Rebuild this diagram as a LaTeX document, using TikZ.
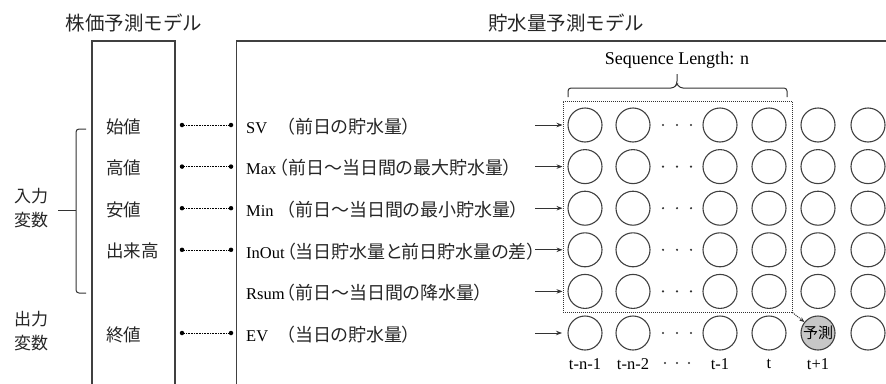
\documentclass[tikz,border=0pt]{standalone}
\usepackage{fontspec}
\setmainfont{Liberation Serif}
\newfontfamily\jp{Noto Sans CJK JP}
\newfontfamily\jpp[RawFeature={+palt}]{Noto Sans CJK JP}
\newcommand\jtxt[1]{{\jpp\fontsize{18}{19}\selectfont\color{black!85}#1}}
\newcommand\lbox[2]{\makebox[#1][l]{#2}}
\usetikzlibrary{arrows.meta,calc}
\begin{document}
\begin{tikzpicture}[x=1pt,y=-1pt,
  frame/.style={draw=black!75,line width=1.4pt},
  cir/.style={circle,draw=black!75,line width=1.1pt,minimum size=34pt,inner sep=0pt},
  rowtxt/.style={font=\fontsize{16.5}{18}\selectfont,inner sep=0pt,anchor=west},
  jleft/.style={font=\jp\fontsize{17.5}{19}\selectfont,inner sep=0pt,anchor=west,text=black!85},
  jtitle/.style={font=\jp\fontsize{19.5}{21}\selectfont,inner sep=0pt,text=black!85},
  jside/.style={font=\jp\fontsize{17}{24}\selectfont,inner sep=0pt,align=center,text=black!85},
  conn/.style={densely dotted,line width=0.6pt},
  dotend/.style={circle,fill=black,inner sep=0pt,minimum size=4.5pt},
  arr/.style={-{Stealth[length=6pt,width=4.5pt]},line width=0.8pt,draw=black!80},
  smalldot/.style={circle,fill=black!80,inner sep=0pt,minimum size=2.4pt},
  tlab/.style={font=\fontsize{16.5}{18}\selectfont,inner sep=0pt}
]
\useasboundingbox (0,0) rectangle (886,383);

% titles
\node[jtitle] (title1) at (134,23) {株価予測モデル};
\node[jtitle] (title2) at (566,23) {貯水量予測モデル};

% frames
\draw[frame] (92,390) -- (92,41) -- (175,41) -- (175,390);
\draw[frame] (236.5,390) -- (236.5,41) -- (890,41);

% side labels
\node[jside] (inlab) at (31,208) {入力\\変数};
\node[jside] (outlab) at (31,331) {出力\\変数};
\draw[line width=1pt,draw=black!80,rounded corners=3pt] (86,129) -- (76,129) -- (76,293) -- (86,293);
\draw[line width=1pt,draw=black!80] (58,210) -- (76,210);

% rows
\def\rA{125}\def\rB{166.6}\def\rC{208.2}\def\rD{249.8}\def\rE{291.4}\def\rF{333}

\node[jleft] (l1) at (106,\rA+1.5) {始値};
\node[jleft] (l2) at (106,\rB+1.5) {高値};
\node[jleft] (l3) at (106,\rC+1.5) {安値};
\node[jleft] (l4) at (106,\rD+1.5) {出来高};
\node[jleft] (l6) at (106,\rF+1.5) {終値};

\foreach \n/\r in {1/\rA,2/\rB,3/\rC,4/\rD,6/\rF}{
  \node[dotend] (da\n) at (182,\r) {};
  \node[dotend] (db\n) at (231,\r) {};
  \draw[conn] (da\n) -- (db\n);
}

\node[rowtxt] (s1) at (246,\rA+1.5) {\lbox{40pt}{SV}\jtxt{（前日の貯水量）}};
\node[rowtxt] (s2) at (246,\rB+1.5) {\lbox{33pt}{Max}\jtxt{（前日～当日間の最大貯水量）}};
\node[rowtxt] (s3) at (246,\rC+1.5) {\lbox{40pt}{Min}\jtxt{（前日～当日間の最小貯水量）}};
\node[rowtxt] (s4) at (246,\rD+1.5) {\lbox{40.5pt}{InOut}\jtxt{（当日貯水量と前日貯水量の差）}};
\node[rowtxt] (s5) at (246,\rE+1.5) {\lbox{40pt}{Rsum}\jtxt{（前日～当日間の降水量）}};
\node[rowtxt] (s6) at (246,\rF+1.5) {\lbox{40pt}{EV}\jtxt{（当日の貯水量）}};

% window
\node[draw=black!80,densely dotted,line width=1pt,minimum width=229pt,minimum height=211pt,inner sep=0pt] (win) at (677.5,206.5) {};

% arrows
\foreach \n/\r in {1/\rA,2/\rB,3/\rC,4/\rD,5/\rE,6/\rF}{
  \coordinate (as\n) at (535,\r);
}
\foreach \n/\r in {1/\rA,2/\rB,3/\rC,4/\rD,5/\rE}{
  \draw[arr] (as\n) -- (as\n -| win.west);
}
\coordinate (ae6) at (562,\rF);
\draw[arr] (as6) -- (ae6);

% circles
\foreach \n/\r in {1/\rA,2/\rB,3/\rC,4/\rD,5/\rE,6/\rF}{
  \foreach \c/\x in {1/585,2/633,3/720,4/769,6/868}{
    \node[cir] (c\n-\c) at (\x,\r) {};
  }
  \foreach \d/\x in {1/663,2/677,3/691}{
    \node[smalldot] (dd\n-\d) at (\x,\r) {};
  }
}
\foreach \n/\r in {1/\rA,2/\rB,3/\rC,4/\rD,5/\rE}{
  \node[cir] (c\n-5) at (818,\r) {};
}
\node[cir,fill=black!22,font=\jp\fontsize{15}{16}\selectfont] (pred) at (818,\rF) {予測};
\draw[densely dotted,line width=1pt,draw=black!80,-{Stealth[length=5pt,width=4pt]}] (win.south east) -- (pred);

% brace + label
\draw[line width=1pt,draw=black!80,rounded corners=3pt] (568,97) -- (568,88) -- (674,88) -- (677,84) -- (677,74);
\draw[line width=1pt,draw=black!80,rounded corners=3pt] (787,97) -- (787,88) -- (680,88) -- (677,84);
\node[font=\fontsize{18}{20}\selectfont,inner sep=0pt] (seq) at (677,60) {Sequence Length: n};

% time labels
\node[tlab] (tl1) at (585,364) {t-n-1};
\node[tlab] (tl2) at (633,364) {t-n-2};
\node[tlab] (tl4) at (720,364) {t-1};
\node[tlab] (tl5) at (769,364) {t};
\node[tlab] (tl6) at (818,364) {t+1};
\foreach \d/\x in {1/665,2/677,3/689}{
  \node[smalldot] (td\d) at (\x,363) {};
}
\end{tikzpicture}
\end{document}
